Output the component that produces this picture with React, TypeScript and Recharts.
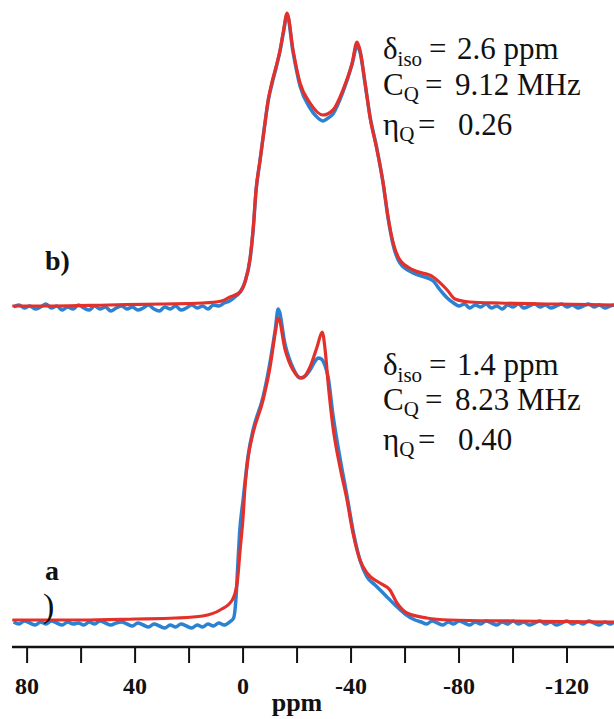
import { LineChart, Line, XAxis, YAxis } from 'recharts'

// ppm, intensity (a.u., baseline = 0)
const expB: [number, number][] = [
  [85, -1], [83, 1], [81, -2], [79, 0], [77, -3], [75, -1], [73, 2], [71, -2], [69, 0], [67, -4],
  [65, -1], [63, -3], [61, 1], [59, -2], [57, -4], [55, 0], [53, -3], [51, -1], [49, -5], [47, -2],
  [45, 0], [43, -3], [41, -1], [39, -4], [37, -2], [35, 1], [33, -3], [31, -5], [29, -1], [27, -3],
  [25, 0], [23, -4], [21, -2], [19, 1], [17, -2], [15, 0], [13, -3], [11, 1], [9, 0], [7, 3],
  [5, 5], [3, 9], [1.1, 14], [-0.7, 24], [-2.6, 47], [-3.7, 75], [-4.8, 115], [-6.3, 146],
  [-7.8, 177], [-9.3, 205], [-10.7, 222], [-12.2, 238], [-13.7, 255], [-15, 274], [-16.3, 291],
  [-18.5, 254], [-21.1, 220], [-24.8, 198], [-27, 190], [-29.6, 185], [-31, 187], [-33.3, 192],
  [-37, 214], [-40.4, 242], [-42.2, 260], [-43.3, 254], [-45.2, 222], [-47, 190], [-49.6, 157],
  [-51.9, 122], [-53.7, 88], [-55.6, 61], [-58.1, 43], [-63, 33], [-70.4, 25], [-73, 16],
  [-75.6, 8], [-78, 3], [-80, 0], [-82, 2], [-84, -2], [-86, 1], [-88, -1], [-90, 2], [-92, -2],
  [-94, 0], [-96, -3], [-98, 1], [-100, -1], [-102, 2], [-104, -2], [-106, 0], [-108, 2],
  [-110, -1], [-112, 1], [-114, -2], [-116, 0], [-118, 2], [-120, -1], [-122, 1], [-124, -2],
  [-126, 0], [-128, 2], [-130, -1], [-132, 1], [-134, -2], [-136, 0], [-137.4, 1],
]

const simB: [number, number][] = [
  [85.5, 0], [70, 0], [50, 1], [30, 2], [15, 3], [8, 5], [4.8, 9], [1.1, 14], [-0.7, 24],
  [-2.6, 48], [-3.7, 76], [-4.8, 116], [-6.3, 146], [-7.8, 176], [-9.3, 206], [-10.7, 224],
  [-12.2, 239], [-13.7, 256], [-15, 276], [-16.3, 293], [-18.5, 256], [-21.1, 223], [-24.8, 203],
  [-29.6, 191], [-33.3, 196], [-37, 216], [-40.4, 243], [-42.2, 264], [-43.3, 256], [-45.2, 223],
  [-47, 189], [-49.6, 156], [-51.9, 123], [-53.7, 89], [-55.6, 63], [-58.1, 46], [-63, 36],
  [-70.4, 29], [-75.6, 16], [-78.5, 7], [-84, 4], [-95, 3], [-115, 2], [-137.4, 1],
]

const expA: [number, number][] = [
  [85, 0], [83, -2], [81, 1], [79, -1], [77, -3], [75, 0], [73, -2], [71, 1], [69, -1], [67, -3],
  [65, 0], [63, -2], [61, -1], [59, -3], [57, 0], [55, -2], [53, 1], [51, -1], [49, -3], [47, -1],
  [45, 0], [43, -2], [41, -4], [39, -1], [37, -3], [35, -5], [33, -2], [31, -4], [29, -6], [27, -3],
  [25, -5], [23, -2], [21, -4], [19, -6], [17, -3], [15, -5], [13, -2], [11, -4], [9, -1], [7, -3],
  [5, 0], [3.5, 4], [2.6, 25], [2, 55], [1.3, 89], [0, 122], [-1.9, 167], [-3.7, 192],
  [-7.4, 225], [-10, 260], [-11.9, 292], [-13, 313], [-15.6, 277], [-18.5, 254], [-21.1, 244],
  [-23, 246], [-24.8, 252], [-26.5, 260], [-27.8, 264], [-29, 263], [-30.4, 256], [-31.5, 245],
  [-33.3, 207], [-35.9, 164], [-38.5, 126], [-40.7, 92], [-43.3, 62], [-45.9, 45], [-48.9, 37],
  [-52.6, 27], [-56.3, 17], [-60, 8], [-63.7, 2], [-66, 0], [-68, -2], [-70, 1], [-72, -1],
  [-74, -3], [-76, 0], [-78, -2], [-80, 1], [-82, -1], [-84, -3], [-86, 0], [-88, -2], [-90, 1],
  [-92, -1], [-94, -3], [-96, 0], [-98, -2], [-100, 1], [-102, -2], [-104, 0], [-106, -3],
  [-108, -1], [-110, 1], [-112, -2], [-114, 0], [-116, -3], [-118, -1], [-120, 1], [-122, -2],
  [-124, 0], [-126, -2], [-128, 1], [-130, -1], [-132, -3], [-134, 0], [-136, -2], [-137.4, 0],
]

const simA: [number, number][] = [
  [85.5, 2], [60, 2], [40, 3], [25, 4], [15, 6], [8.5, 12], [4, 22], [2.2, 39], [1.1, 72],
  [0, 105], [-0.7, 135], [-1.9, 165], [-3.7, 189], [-7.4, 222], [-10, 255], [-11.9, 289],
  [-13, 304], [-15.6, 272], [-18.5, 252], [-21.9, 244], [-24.8, 255], [-27.4, 275], [-29.3, 290],
  [-30.4, 272], [-31.5, 239], [-33.3, 195], [-35.9, 155], [-38.5, 122], [-40.7, 89], [-43.3, 62],
  [-45.9, 49], [-50.7, 39], [-54.4, 32], [-57, 19], [-60.7, 9], [-68, 4], [-76.3, 2], [-100, 1],
  [-137.4, 0],
]

const ppmTicks = [80, 60, 40, 20, 0, -20, -40, -60, -80, -100, -120]
const paramsB = ['2.6 ppm', '9.12 MHz', '0.26']
const paramsA = ['1.4 ppm', '8.23 MHz', '0.40']

const W = 614
const H = 719
const RED = '#e3302a'
const BLUE = '#2c82d2'
const SERIF = 'Liberation Serif, DejaVu Serif, serif'

const toPoints = (arr: [number, number][]) => arr.map(([ppm, v]) => ({ ppm, v }))

function Params({ values, top }: { values: string[]; top: number[] }) {
  return (
    <g style={{ fontFamily: SERIF, fontSize: 31, fill: '#111' }}>
      <text x={383} y={top[0]}>
        δ<tspan style={{ fontSize: 21 }} dy={7}>iso</tspan>
        <tspan x={429} dy={-7}>=</tspan>
        <tspan x={457}>{values[0]}</tspan>
      </text>
      <text x={383} y={top[1]}>
        C<tspan style={{ fontSize: 21 }} dy={6}>Q</tspan>
        <tspan x={425} dy={-6}>=</tspan>
        <tspan x={455}>{values[1]}</tspan>
      </text>
      <text x={383} y={top[2]}>
        η<tspan style={{ fontSize: 21 }} dy={6}>Q</tspan>
        <tspan x={418} dy={-6}>=</tspan>
        <tspan x={458}>{values[2]}</tspan>
      </text>
    </g>
  )
}

export default function App() {
  return (
    <div style={{ position: 'absolute', left: 0, top: 0, width: W, height: H, background: '#fff' }}>
      <LineChart width={W} height={H} margin={{ top: 0, right: 0, bottom: 0, left: 12 }}>
        <XAxis
          type="number"
          dataKey="ppm"
          domain={[-137.4, 85.6]}
          reversed
          allowDataOverflow
          ticks={ppmTicks}
          interval={0}
          height={72}
          tickSize={16}
          tickMargin={14}
          tickFormatter={(v: number) => (v % 40 === 0 ? String(v) : '')}
          axisLine={{ stroke: '#111', strokeWidth: 2.5 }}
          tickLine={{ stroke: '#111', strokeWidth: 2 }}
          tick={{ fill: '#111', fontSize: 24, fontWeight: 'bold', style: { fontFamily: SERIF } }}
        />
        <YAxis yAxisId="a" type="number" hide domain={[-25, 622]} allowDataOverflow />
        <YAxis yAxisId="b" type="number" hide domain={[-341, 306]} allowDataOverflow />
        <Line yAxisId="a" data={toPoints(expA)} dataKey="v" type="monotone" stroke={BLUE} strokeWidth={3.5} dot={false} activeDot={false} isAnimationActive={false} />
        <Line yAxisId="a" data={toPoints(simA)} dataKey="v" type="monotone" stroke={RED} strokeWidth={3.2} dot={false} activeDot={false} isAnimationActive={false} />
        <Line yAxisId="b" data={toPoints(expB)} dataKey="v" type="monotone" stroke={BLUE} strokeWidth={3.5} dot={false} activeDot={false} isAnimationActive={false} />
        <Line yAxisId="b" data={toPoints(simB)} dataKey="v" type="monotone" stroke={RED} strokeWidth={3.2} dot={false} activeDot={false} isAnimationActive={false} />
      </LineChart>
      <svg width={W} height={H} style={{ position: 'absolute', left: 0, top: 0, pointerEvents: 'none' }}>
        <Params values={paramsB} top={[59, 95, 135]} />
        <Params values={paramsA} top={[375, 410, 450]} />
        <g style={{ fontFamily: SERIF, fill: '#111' }}>
          <text x={45} y={270} style={{ fontSize: 28, fontWeight: 'bold' }}>b)</text>
          <text x={45} y={580} style={{ fontSize: 28, fontWeight: 'bold' }}>a</text>
          <text x={43} y={617} style={{ fontSize: 34 }}>)</text>
          <text x={297} y={711} textAnchor="middle" style={{ fontSize: 26, fontWeight: 'bold' }}>ppm</text>
        </g>
      </svg>
    </div>
  )
}
